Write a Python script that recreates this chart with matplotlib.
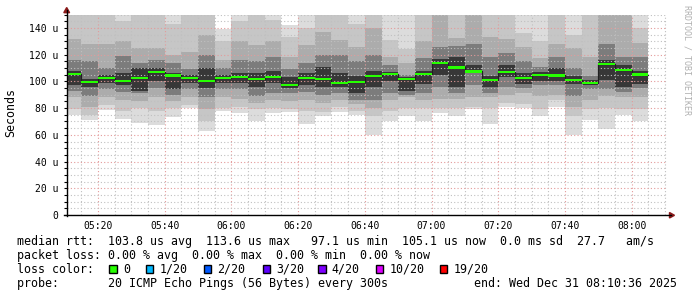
import matplotlib
matplotlib.use('Agg')
import matplotlib.pyplot as plt
import matplotlib.dates as mdates
import matplotlib.patches as mpatches
from matplotlib.lines import Line2D
from matplotlib.ticker import MultipleLocator, FuncFormatter
import numpy as np
import pandas as pd

# ---------------- data ----------------
t_start = pd.Timestamp('2025-12-31 05:10:36')
t_end = pd.Timestamp('2025-12-31 08:10:36')
bar_end = pd.date_range('2025-12-31 05:15', '2025-12-31 08:05', freq='5min')

median = [105.8, 99.8, 102.5, 100.5, 102.5, 106.8, 104.5, 102.5, 100.5, 102.3,
          103.3, 101.6, 103.3, 97.1, 102.5, 101.6, 99.0, 99.8, 104.0, 105.5,
          101.6, 105.8, 113.6, 110.5, 107.5, 101.0, 107.0, 102.3, 105.0, 104.5,
          101.0, 98.6, 113.0, 108.3, 105.1]

# smoke band edges (outer -> inner), upper side
hi1 = [160, 160, 165, 160, 160, 165, 160, 160, 160, 139.5, 160, 165, 160, 142, 160, 160, 160, 160,
       160, 160, 160, 160, 165, 160, 170, 160, 160, 160, 160, 160, 160, 160, 170, 170, 160]
hi2 = [158, 158, 158, 145, 158, 158, 143, 158, 158, 130, 145, 158, 146, 133, 140, 158, 158, 143,
       158, 131, 124, 158, 160, 158, 165, 158, 158, 136, 130, 158, 135, 158, 165, 165, 140]
hi3 = [132, 128, 128, 130, 125, 125, 120, 122, 135, 116, 130, 127, 130, 118, 127.5, 137, 131, 126,
       140, 118.5, 114, 130, 155, 132.5, 158, 133, 132, 126, 117.5, 128, 125, 118.5, 158, 158, 128.5]
hi4 = [116, 115, 110, 119, 114, 116, 113.5, 109, 120, 110, 116, 115, 118, 109, 113.5, 120, 120, 115,
       120, 112, 105, 117.5, 126, 126.5, 128, 118.5, 121, 115, 111, 118, 110, 104, 128, 118, 118.5]
hi5 = [108, 102, 105, 106, 110, 110, 106, 105, 110, 105, 106, 106, 108, 103, 106, 111, 106, 104,
       108, 107, 103.5, 108, 117, 118, 112, 104, 112, 106, 107, 110, 104, 101, 116, 112, 107.5]
# lower side
lo1 = [75, 71, 78.6, 72, 69, 67, 73, 80, 63, 78, 76, 70, 76, 77, 68, 74, 77, 75,
       60, 70, 74, 70, 76, 74, 79, 68, 81, 80, 74, 81, 60, 71, 64, 75, 70]
lo2 = [79, 75, 82, 78, 80, 78, 80, 82, 70, 80, 81, 79, 80, 79, 78, 77, 81, 78,
       74, 78, 80, 80, 80, 80, 81, 80, 84, 83, 79, 86, 74, 79, 80, 79, 79]
lo3 = [88, 81, 88, 86, 85, 88, 85, 88, 79, 88, 87, 84, 86, 85, 86, 84, 86, 83,
       80, 86, 88, 86, 87, 87, 88, 88, 90, 91, 89, 90, 81, 86, 89, 88, 88]
lo4 = [93, 89, 94, 92, 91, 95, 90, 94, 88, 94, 94, 89, 91, 91, 92, 90, 91, 86,
       86, 91, 90, 91, 96, 91, 97, 91, 96, 95, 97, 97, 89, 94, 94, 92, 95]
lo5 = [97, 96, 99, 97, 93, 100, 94, 99, 95, 99, 99, 96, 99, 95, 97, 96, 96, 91,
       96, 100, 93, 98, 105, 96, 106, 96, 103, 98, 100, 100, 98, 97, 101, 96, 98]

y_ticks = [0, 20, 40, 60, 80, 100, 120, 140]
loss_labels = ['0', '1/20', '2/20', '3/20', '4/20', '10/20', '19/20']
loss_colors = ['#26ff00', '#00b8ff', '#0059ff', '#5e00ff', '#7e00ff', '#dd00ff', '#ff0000']

# ---------------- figure ----------------
W, H = 697, 297
fig = plt.figure(figsize=(W / 100, H / 100), dpi=100)
fig.patch.set_facecolor('white')
MONO = 'DejaVu Sans Mono'


def fx(x):
    return x / W


def fy(y):
    return 1 - y / H


ax = fig.add_axes([fx(66.7), fy(215), (667 - 66.7) / W, (215 - 14.6) / H])
ax.set_facecolor('white')

left = mdates.date2num(bar_end - pd.Timedelta(minutes=5))
width = 5 / 1440.0

layers = [(lo1, hi1, '#dcdcdc'), (lo2, hi2, '#c6c6c6'), (lo3, hi3, '#acacac'),
          (lo4, hi4, '#7c7c7c'), (lo5, hi5, '#373737')]
for lo, hi, c in layers:
    lo = np.array(lo, float)
    hi = np.array(hi, float)
    ax.bar(left, hi - lo, bottom=lo, width=width, align='edge', color=c,
           linewidth=0, zorder=1)

med = np.array(median)
xs = np.append(left, left[-1] + width)
ax.step(xs, np.append(med, med[-1]), where='post', color='#202020', lw=0.9, zorder=2.8)
ax.bar(left, 1.7, bottom=med - 0.85, width=width, align='edge', color='#26ff00',
       linewidth=0, zorder=3)

ax.set_xlim(mdates.date2num(t_start), mdates.date2num(t_end))
ax.set_ylim(0, 150)

ax.xaxis.set_major_locator(mdates.MinuteLocator(byminute=[0, 20, 40]))
ax.xaxis.set_minor_locator(mdates.MinuteLocator(byminute=list(range(0, 60, 5))))
ax.xaxis.set_major_formatter(mdates.DateFormatter('%H:%M'))
ax.set_yticks(y_ticks)
ax.yaxis.set_minor_locator(MultipleLocator(5))
ax.yaxis.set_major_formatter(FuncFormatter(lambda v, p: '0' if v == 0 else f'{int(v)} u'))

ax.set_axisbelow(False)
ax.grid(which='major', color='#e49a9a', linestyle=(0, (1, 2)), lw=0.8)
ax.grid(which='minor', color='#c0c0c0', linestyle=(0, (1, 2)), lw=0.8)

for s in ax.spines.values():
    s.set_visible(False)

ax.tick_params(axis='x', which='both', length=0, pad=4.5, labelsize=7.05,
               labelfontfamily=MONO, colors='black')
ax.tick_params(axis='y', which='both', length=2, width=0.8, direction='out',
               pad=3.9, labelsize=7.05, labelfontfamily=MONO, colors='black')

# axes lines and arrows
fig.add_artist(Line2D([fx(66.7), fx(66.7)], [fy(215.5), fy(10)], color='black', lw=1))
fig.add_artist(Line2D([fx(64), fx(671)], [fy(215.3), fy(215.3)], color='black', lw=1))
fig.add_artist(mpatches.Polygon([(fx(63.8), fy(12.7)), (fx(69.6), fy(12.7)), (fx(66.7), fy(7.5))],
                                closed=True, color='#8b1a1a', transform=fig.transFigure))
fig.add_artist(mpatches.Polygon([(fx(669.5), fy(212.5)), (fx(669.5), fy(218)), (fx(674.5), fy(215.3))],
                                closed=True, color='#8b1a1a', transform=fig.transFigure))

# labels
fig.text(fx(11), fy(113), 'Seconds', rotation=90, ha='center', va='center',
         family=MONO, fontsize=8.34)
fig.text(fx(687), fy(5), 'RRDTOOL / TOBI OETIKER', rotation=270, ha='center', va='top',
         family=MONO, fontsize=6.0, color='#b0b0b0')

LFS = 8.34
fig.text(fx(16.7), fy(241), 'median rtt:  103.8 us avg  113.6 us max   97.1 us min  105.1 us now  0.0 ms sd  27.7   am/s',
         ha='left', va='center', family=MONO, fontsize=LFS)
fig.text(fx(16.7), fy(255.5), 'packet loss: 0.00 % avg  0.00 % max  0.00 % min  0.00 % now',
         ha='left', va='center', family=MONO, fontsize=LFS)
fig.text(fx(16.7), fy(269.5), 'loss color:', ha='left', va='center', family=MONO, fontsize=LFS)
sq_x = [109.3, 146.2, 203.8, 262.8, 318.2, 376.2, 440.0]
for lab, col, sx in zip(loss_labels, loss_colors, sq_x):
    fig.add_artist(mpatches.Rectangle((fx(sx), fy(273)), 7.3 / W, 8 / H, facecolor=col,
                                      edgecolor='black', lw=1.0, transform=fig.transFigure))
    fig.text(fx(sx + 13.5), fy(269.5), lab, ha='left', va='center', family=MONO, fontsize=LFS)
fig.text(fx(16.7), fy(283.5), 'probe:       20 ICMP Echo Pings (56 Bytes) every 300s',
         ha='left', va='center', family=MONO, fontsize=LFS)
fig.text(fx(474), fy(283.5), 'end: Wed Dec 31 08:10:36 2025',
         ha='left', va='center', family=MONO, fontsize=LFS)

fig.savefig('out.png', dpi=100, facecolor='white')
